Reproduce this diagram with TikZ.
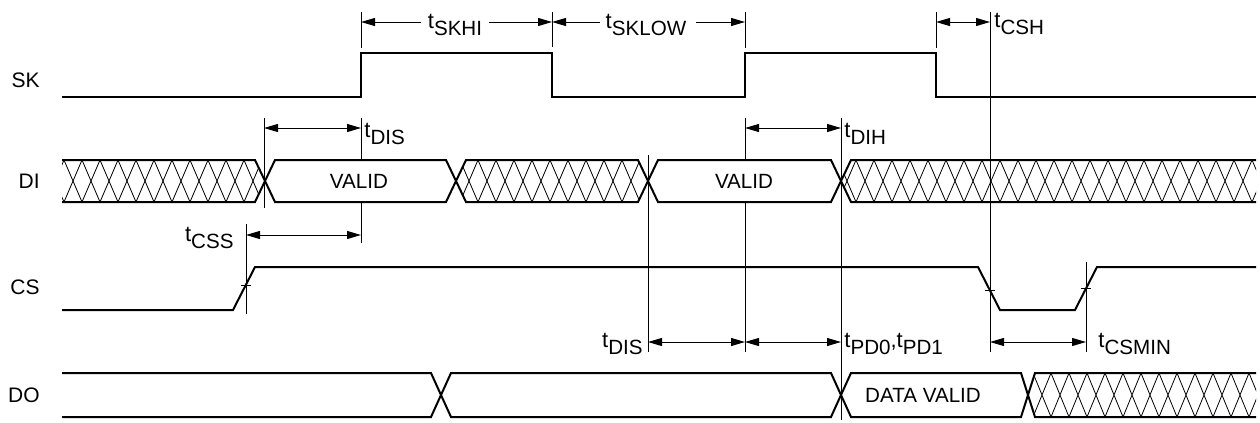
\documentclass[tikz,border=0pt]{standalone}
\usepackage{fontspec}
\setmainfont{Liberation Sans}
\usetikzlibrary{arrows.meta}
\newcommand{\tmsub}[1]{t\raisebox{-3.9pt}{\fontsize{10.3}{11}\selectfont #1}}
\begin{document}
\begin{tikzpicture}[x=0.5pt,y=-0.5pt,
  >={Triangle[length=7pt,width=4pt]},
  sig/.style={line width=1pt},
  guide/.style={line width=0.5pt},
  hatchline/.style={line width=0.4pt},
  dim/.style={line width=0.5pt},
  siglabel/.style={anchor=east, inner sep=0pt, font=\fontsize{10.5}{12}\selectfont},
  txt/.style={inner sep=0pt, font=\fontsize{10.3}{12}\selectfont},
  tlabel/.style={inner sep=0pt, font=\fontsize{11}{12}\selectfont}]
\useasboundingbox (0,0) rectangle (1260,423);

% signal names
\node[siglabel] (nSK) at (40,80) {SK};
\node[siglabel] (nDI) at (40,181) {DI};
\node[siglabel] (nCS) at (40,287) {CS};
\node[siglabel] (nDO) at (40,395) {DO};

% guide lines
\draw[guide] (361,12)--(361,48) (552,12)--(552,47) (745,12)--(745,48) (936,12)--(936,48);
\draw[guide] (990,12)--(990,352);
\draw[guide] (264,118)--(264,208);
\draw[guide] (361,118)--(361,160) (361,202)--(361,243);
\draw[guide] (745,118)--(745,160) (745,202)--(745,352);
\draw[guide] (841,118)--(841,420);
\draw[guide] (648,155)--(648,352);
\draw[guide] (246,224)--(246,314);
\draw[guide] (1086,262)--(1086,352);

% SK
\draw[sig] (62,97)--(361,97)--(361,53)--(552,53)--(552,97)--(745,97)--(745,53)--(936,53)--(936,97)--(1256,97);

% DI hatch
\begin{scope}
\clip (62,160)--(255,160)--(265,181)--(255,202)--(62,202)--cycle
 (456,181)--(466,160)--(638,160)--(648,181)--(638,202)--(466,202)--cycle
 (841,181)--(851,160)--(1256,160)--(1256,202)--(851,202)--cycle;
\foreach \k in {46,64,...,1264} \draw[hatchline] (\k,160)--({\k+18},202) ({\k+18},160)--(\k,202);
\end{scope}
% DI outline
\draw[sig] (62,160)--(255,160)--(275,202)--(446,202)--(466,160)--(638,160)--(658,202)--(831,202)--(851,160)--(1256,160);
\draw[sig] (62,202)--(255,202)--(275,160)--(446,160)--(466,202)--(638,202)--(658,160)--(831,160)--(851,202)--(1256,202);
\node[txt] (v1) at (359,181) {VALID};
\node[txt] (v2) at (744,181) {VALID};

% CS
\draw[sig] (62,310)--(233,310)--(255,267)--(978,267)--(1000,310)--(1075,310)--(1097,267)--(1256,267);
\draw[guide] (241,285)--(251,285) (985,290)--(995,290) (1081,288)--(1091,288);

% DO hatch
\begin{scope}
\clip (1028,395)--(1035,373)--(1256,373)--(1256,417)--(1035,417)--cycle;
\foreach \k in {1015,1033,...,1267} \draw[hatchline] (\k,373)--({\k+18},417) ({\k+18},373)--(\k,417);
\end{scope}
% DO outline
\draw[sig] (62,373)--(431,373)--(451,417)--(831,417)--(851,373)--(1021,373)--(1035,417)--(1256,417);
\draw[sig] (62,417)--(431,417)--(451,373)--(831,373)--(851,417)--(1021,417)--(1035,373)--(1256,373);
\node[txt] (dv) at (923,395) {DATA VALID};

% dimensions
\draw[dim,<-] (361,22)--(421,22);
\draw[dim,->] (489,22)--(552,22);
\node[tlabel,anchor=base] (lSKHI) at (455,28) {\tmsub{SKHI}};
\draw[dim,<-] (552,22)--(600,22);
\draw[dim,->] (696,22)--(745,22);
\node[tlabel,anchor=base] (lSKLOW) at (646,28) {\tmsub{SKLOW}};
\draw[dim,<->] (936,22)--(990,22);
\node[tlabel,anchor=base west] (lCSH) at (994,27) {\tmsub{CSH}};

\draw[dim,<->] (264,128)--(361,128);
\node[tlabel,anchor=base west] (lDIS1) at (364,137) {\tmsub{DIS}};
\draw[dim,<->] (745,128)--(841,128);
\node[tlabel,anchor=base west] (lDIH) at (844,137) {\tmsub{DIH}};
\draw[dim,<->] (246,235)--(361,235);
\node[tlabel,anchor=base east] (lCSS) at (234,241) {\tmsub{CSS}};

\draw[dim,<->] (648,342)--(745,342);
\draw[dim,<->] (745,342)--(841,342);
\node[tlabel,anchor=base east] (lDIS2) at (643,347) {\tmsub{DIS}};
\node[tlabel,anchor=base west] (lPD) at (844,347) {\tmsub{PD0},\tmsub{PD1}};
\draw[dim,<->] (990,342)--(1086,342);
\node[tlabel,anchor=base west] (lCSMIN) at (1098,347) {\tmsub{CSMIN}};
\end{tikzpicture}
\end{document}
